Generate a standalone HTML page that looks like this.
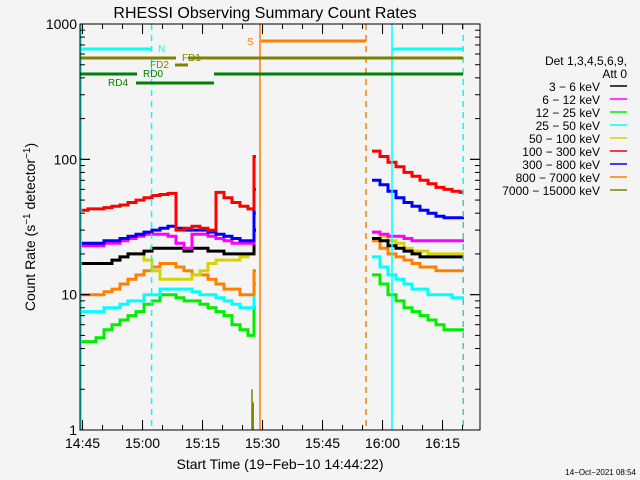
<!DOCTYPE html>
<html><head><meta charset="utf-8"><style>
html,body{margin:0;padding:0;background:#f4f4f4}
svg{display:block;font-family:"Liberation Sans","DejaVu Sans",sans-serif}
</style></head><body>
<svg id="c" width="640" height="480" xmlns="http://www.w3.org/2000/svg">
<rect width="640" height="480" fill="#f4f4f4"/>
<text x="265" y="18" font-size="16" text-anchor="middle" fill="#000">RHESSI Observing Summary Count Rates</text>
<text transform="translate(35,227) rotate(-90)" font-size="14" text-anchor="middle">Count Rate (s<tspan dy="-5" font-size="10">−1</tspan><tspan dy="5"> detector</tspan><tspan dy="-5" font-size="10">−1</tspan><tspan dy="5">)</tspan></text>
<text x="280" y="469" font-size="14" text-anchor="middle">Start Time (19−Feb−10 14:44:22)</text>
<text x="636" y="475" font-size="8" text-anchor="end">14−Oct−2021 08:54</text>
<g id="plot"></g>
<g id="legend"></g>
</svg>
<script>
// x values: minutes since 14:44:22
const preTimes = [0,2,4,6,8,10,12,14,16,18,20,22,24,26,28,30,32,34,36,38,40,42,43.5];
const postTimes = [73,75,77,79,81,83,85,87,89,91,93,95];
const seriesNames = ["3 - 6 keV","6 - 12 keV","12 - 25 keV","25 - 50 keV","50 - 100 keV","100 - 300 keV","300 - 800 keV","800 - 7000 keV","7000 - 15000 keV"];
const seriesColors = ["#000000","#ff00ff","#00ee00","#00ffff","#d4d400","#ff0000","#0000ff","#ff8000","#808000"];
const pre_3_6 = [17,17,17,17,18,19,20,20,21,22,22,22,22,21,22,22,21,21,20,20,20,20,30];
const pre_6_12 = [23,23,23,24,24,25,26,27,28,28,28,27,24,22,28,28,27,26,25,24,24,24,40];
const pre_12_25 = [4.5,4.5,4.8,5.5,6,6.5,7,7.5,8.5,9,10,10,9.5,9,9,8.5,8,7.5,7,6,5.5,5,8];
const pre_25_50 = [7.5,7.5,7.5,8,8,8.5,9,9,10,10,11,11,11,11,10.5,10,10,9.5,9,8.5,8,8,12];
const pre_50_100 = [17,17,17,17,18,19,20,20,18,15,13,13,13,13,14,15,17,18,18,18,19,20,30];
const pre_100_300 = [42,43,43,44,45,46,48,50,52,54,55,56,30,31,32,31,30,57,52,48,45,43,105];
const pre_300_800 = [24,24,24,25,25,26,27,28,29,30,31,32,31,30,30,30,29,28,27,26,25,25,60];
const pre_800_7000 = [10,10,10,10.5,11,12,13,14,15,16,17,17,16,15,14,14,13,12,11,11,10,10,15];
const pre_7000_15000 = [0.5,0.5,0.5,0.5,0.5,0.5,0.5,0.5,0.5,0.5,0.5,0.5,0.5,0.5,0.5,0.5,0.5,0.5,0.5,0.5,0.5,0.5,0.5];
const post_3_6 = [26,25,23,22,21,20,19,19,19,19,19,19];
const post_6_12 = [29,28,27,27,26,25,25,25,25,25,25,25];
const post_12_25 = [14,12,10,9,8,7.5,7,6.5,6,5.5,5.5,5.5];
const post_25_50 = [19,16,14,13,12,11,11,10,10,10,9.5,9.5];
const post_50_100 = [29,27,25,24,22,21,21,20,20,20,20,20];
const post_100_300 = [115,105,95,88,80,75,70,66,62,60,58,57];
const post_300_800 = [70,65,58,52,48,45,42,40,38,37,37,37];
const post_800_7000 = [25,22,20,19,18,17,16,16,15,15,15,15];
const post_7000_15000 = [0.5,0.5,0.5,0.5,0.5,0.5,0.5,0.5,0.5,0.5,0.5,0.5];
const yTickValues = [1,10,100,1000];
const yTickLabels = ["1","10","100","1000"];
const xTickMinutes = [0.633,15.633,30.633,45.633,60.633,75.633,90.633];
const xTickLabels = ["14:45","15:00","15:15","15:30","15:45","16:00","16:15"];
const olivSpikeTimes = [43.0,43.3];
const olivSpikeValues = [2.0,1.6];

const X0=80,X1=480,Y0=430,Y1=24,TMAX=100;
const xs = t => X0 + t*(X1-X0)/TMAX;
const ys = v => Y0 - Math.log10(v)*(Y0-Y1)/3;
const NS="http://www.w3.org/2000/svg";
const plot=document.getElementById('plot');
function mk(tag,attrs,parent){const e=document.createElementNS(NS,tag);for(const k in attrs)e.setAttribute(k,attrs[k]);(parent||plot).appendChild(e);return e;}

const preData=[pre_3_6,pre_6_12,pre_12_25,pre_25_50,pre_50_100,pre_100_300,pre_300_800,pre_800_7000,pre_7000_15000];
const postData=[post_3_6,post_6_12,post_12_25,post_25_50,post_50_100,post_100_300,post_300_800,post_800_7000,post_7000_15000];
const drawOrder=[2,3,7,4,0,1,6,5];
function stepPath(times,vals,tEnd){
  let d='';
  for(let i=0;i<times.length;i++){
    const v=Math.max(vals[i],0.9);
    const x=xs(times[i]),y=ys(v);
    d+=(i?'L'+x.toFixed(1)+' '+y.toFixed(1):'M'+x.toFixed(1)+' '+y.toFixed(1));
    const xn=i<times.length-1?xs(times[i+1]):xs(tEnd);
    d+='L'+xn.toFixed(1)+' '+y.toFixed(1);
  }
  return d;
}
drawOrder.forEach(i=>{
  const p1=mk('path',{d:stepPath(preTimes,preData[i],44),fill:'none',stroke:seriesColors[i],'stroke-width':3});
  
  
  const p2=mk('path',{d:stepPath(postTimes,postData[i],96),fill:'none',stroke:seriesColors[i],'stroke-width':3});
  
  
});
olivSpikeTimes.forEach((t,i)=>{
  const l=mk('line',{x1:xs(t),x2:xs(t),y1:Y0,y2:ys(olivSpikeValues[i]),stroke:'#808000','stroke-width':1.5});
  
  
});

// vertical event lines
const vlines=[[0.25,'#00ffff',false],[17.9,'#00ffff',true],[45,'#ff8000',false],[71.5,'#ff8000',true],[78,'#00ffff',false],[95.8,'#00ffff',true]];
vlines.forEach(v=>{
  const l=mk('line',{x1:xs(v[0]),x2:xs(v[0]),y1:Y1,y2:Y0,stroke:v[1],'stroke-width':1.5,'stroke-dasharray':v[2]?'6,5':'none'});
  
  
});
const gl=mk('line',{x1:xs(95.8),x2:xs(95.8),y1:200,y2:Y0,stroke:'#999','stroke-width':1,'stroke-dasharray':'6,5'});



// top flag bars [x1,x2,y,color]
const bars=[[80,152,49,'#00ffff'],[392,463,49,'#00ffff'],[261,366,41,'#ff8000'],[80,176,58,'#808000'],[188,463,58,'#808000'],[175,188,65,'#808000'],[80,137,74,'#008000'],[214,463,74,'#008000'],[136,214,83,'#008000']];
bars.forEach(b=>{
  const r=mk('rect',{x:b[0],y:b[2]-1.5,width:b[1]-b[0],height:3,fill:b[3]});
  
  
});
const flagLabels=[['N',158,52,'#00ffff'],['S',247,45,'#ff8000'],['FD1',182,61,'#808000'],['FD2',150,68,'#808000'],['RD0',143,77,'#008000'],['RD4',108,86,'#008000']];
flagLabels.forEach(f=>{
  const t=mk('text',{x:f[1],y:f[2],'font-size':10,fill:f[3]});t.textContent=f[0];
  
  
});

// frame
const fr=mk('rect',{x:X0,y:Y1,width:X1-X0,height:Y0-Y1,fill:'none',stroke:'#000','stroke-width':1});


// y ticks
for(let d=0;d<3;d++){for(let m=1;m<10;m++){
  const v=Math.pow(10,d)*m;const y=ys(v);const len=m===1?10:5;
  mk('line',{x1:X0,x2:X0+len,y1:y,y2:y,stroke:'#000'});
  mk('line',{x1:X1,x2:X1-len,y1:y,y2:y,stroke:'#000'});
}}
yTickValues.forEach((v,i)=>{
  const y=ys(v);
  mk('line',{x1:X0,x2:X0+10,y1:y,y2:y,stroke:'#000'});
  mk('line',{x1:X1,x2:X1-10,y1:y,y2:y,stroke:'#000'});
  const t=mk('text',{x:X0-3,y:y+5,'font-size':14,'text-anchor':'end'});t.textContent=yTickLabels[i];
  
  
});
// x ticks
for(let t=0.633;t<TMAX;t+=5){
  const x=xs(t);
  mk('line',{x1:x,x2:x,y1:Y0,y2:Y0-5,stroke:'#000'});
  mk('line',{x1:x,x2:x,y1:Y1,y2:Y1+5,stroke:'#000'});
}
xTickMinutes.forEach((m,i)=>{
  const x=xs(m);
  mk('line',{x1:x,x2:x,y1:Y0,y2:Y0-10,stroke:'#000'});
  mk('line',{x1:x,x2:x,y1:Y1,y2:Y1+10,stroke:'#000'});
  const t=mk('text',{x:x,y:Y0+18,'font-size':14,'text-anchor':'middle'});t.textContent=xTickLabels[i];
  
  
});

// legend
const lg=document.getElementById('legend');
const h1=mk('text',{x:627,y:65,'font-size':12,'text-anchor':'end'},lg);h1.textContent='Det 1,3,4,5,6,9,';


const h2=mk('text',{x:627,y:78,'font-size':12,'text-anchor':'end'},lg);h2.textContent='Att 0';


seriesNames.forEach((n,i)=>{
  const y=91+i*13;
  const t=mk('text',{x:600,y:y,'font-size':12,'text-anchor':'end'},lg);t.textContent=n.replace(/-/g,'−');
  
  
  const l=mk('line',{x1:610,x2:627,y1:y-5,y2:y-5,stroke:seriesColors[i],'stroke-width':1.5},lg);
  
  
});
</script>
</body></html>
